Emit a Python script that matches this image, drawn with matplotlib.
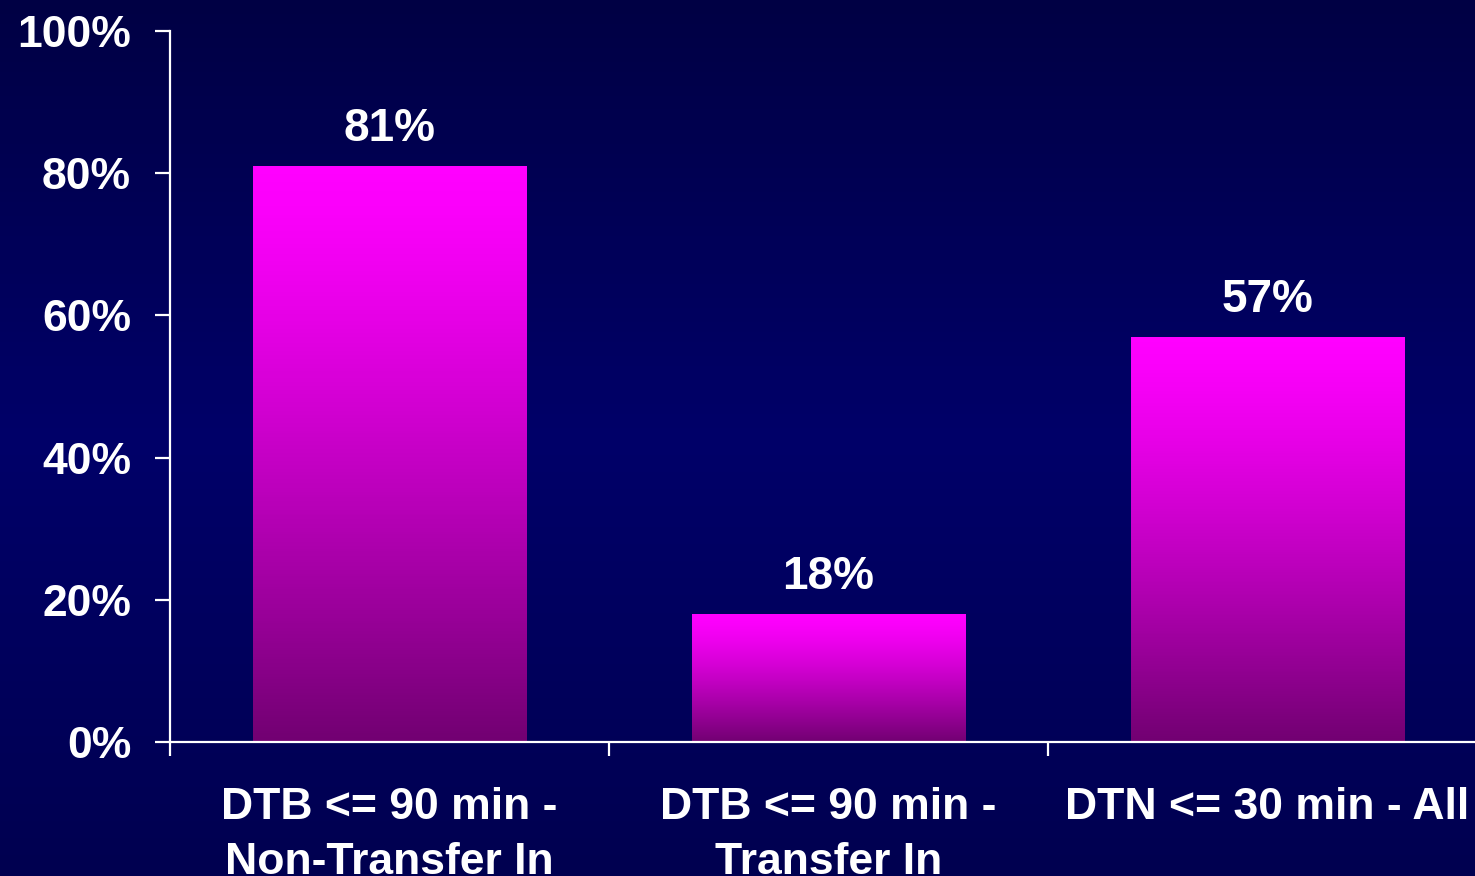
import numpy as np
import matplotlib
matplotlib.use("Agg")
import matplotlib.pyplot as plt
from matplotlib.colors import LinearSegmentedColormap

categories = ["DTB <= 90 min -\nNon-Transfer In",
              "DTB <= 90 min -\nTransfer In",
              "DTN <= 30 min - All"]
values = [81, 18, 57]
value_labels = ["81%", "18%", "57%"]
yticks = [0, 20, 40, 60, 80, 100]
ytick_labels = ["0%", "20%", "40%", "60%", "80%", "100%"]

plt.rcParams["font.family"] = ["Liberation Sans", "DejaVu Sans"]
plt.rcParams["font.weight"] = "bold"

W, H, DPI = 1475, 876, 100
fig = plt.figure(figsize=(W / DPI, H / DPI), dpi=DPI)

# navy slide background, lighter through the middle
bg = fig.add_axes([0, 0, 1, 1], zorder=0)
bg_cmap = LinearSegmentedColormap.from_list(
    "navy", [(0.0, "#000044"), (0.5, "#000069"), (1.0, "#000050")])
bg.imshow(np.linspace(0, 1, 256)[:, None], aspect="auto", cmap=bg_cmap,
          extent=[0, 1, 0, 1], origin="upper")
bg.set_axis_off()

# plot area: left spine at x=170, 0% at y=742, 100% at y=31
step = 439.0
x0, y0, y1 = 170.0, 742.0, 31.0
ax_w = 3 * step
ax = fig.add_axes([x0 / W, (H - y0) / H, ax_w / W, (y0 - y1) / H], zorder=1)
ax.patch.set_alpha(0)
ax.set_xlim(0, 3)
ax.set_ylim(0, 100)

bar_cmap = LinearSegmentedColormap.from_list("mag", ["#720072", "#ff00ff"])
xs = np.arange(len(values)) + 0.5
bars = ax.bar(xs, values, width=0.624, color="none", edgecolor="none", zorder=2)
for b in bars:
    t = np.linspace(0, 1, 256) ** 1.3
    grad = (1 - t)[:, None]
    im = ax.imshow(grad, aspect="auto", cmap=bar_cmap, vmin=0, vmax=1,
                   extent=[b.get_x(), b.get_x() + b.get_width(), 0, b.get_height()],
                   origin="upper", zorder=2)
    im.set_clip_path(b)

for x, v, lab in zip(xs, values, value_labels):
    ax.annotate(lab, (x, v), xytext=(0, 18), textcoords="offset points",
                ha="center", va="baseline", color="white", fontsize=33,
                fontweight="bold")

for s in ["top", "right"]:
    ax.spines[s].set_visible(False)
for s in ["left", "bottom"]:
    ax.spines[s].set_color("white")
    ax.spines[s].set_linewidth(1.6)

ax.set_yticks(yticks)
ax.set_yticklabels(ytick_labels)
ax.set_xticks([0, 1, 2])
ax.set_xticklabels([])
ax.tick_params(axis="y", colors="white", length=11, width=1.6, pad=17,
               labelsize=32, direction="out")
ax.tick_params(axis="x", colors="white", length=10, width=1.6, direction="out")
for lbl in ax.get_yticklabels():
    lbl.set_fontweight("bold")

# category names, one line at a time, baselines 77 px and 132 px below the axis
line_offsets = [-55.5, -95.0]
for x, cat in zip(xs, categories):
    for off, line in zip(line_offsets, cat.split("\n")):
        ax.annotate(line, (x, 0), xytext=(0, off), textcoords="offset points",
                    ha="center", va="baseline", color="white", fontsize=32,
                    fontweight="bold", annotation_clip=False)

fig.savefig("out.png", dpi=DPI)
